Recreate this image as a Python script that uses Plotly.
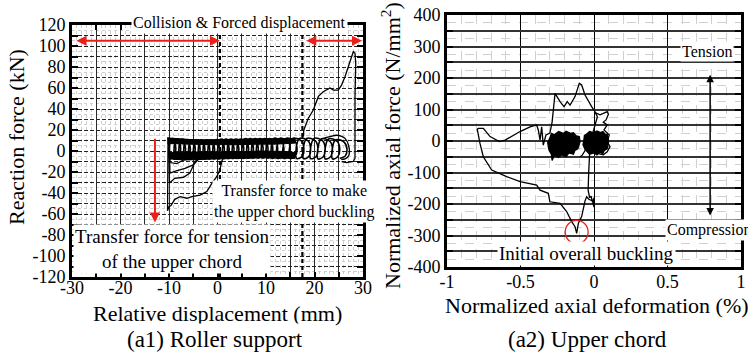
import plotly.graph_objects as go

FONT = "Liberation Serif"

# ---------------- (a1) Roller support : data ----------------
x1_ticks = [-30, -25, -20, -15, -10, -5, 0, 5, 10, 15, 20, 25, 30]
x1_text = ["-30", "", "-20", "", "-10", "", "0", "", "10", "", "20", "", "30"]
y1_ticks = [-120, -110, -100, -90, -80, -70, -60, -50, -40, -30, -20, -10, 0,
            10, 20, 30, 40, 50, 60, 70, 80, 90, 100, 110, 120]
y1_text = ["-120", "", "-100", "", "-80", "", "-60", "", "-40", "", "-20", "", "0",
           "", "20", "", "40", "", "60", "", "80", "", "100", "", "120"]
phase_lines_x = [0.5, 17.5]

# dense parts of the overlapping cycles (upper and lower envelopes)
top_strip_x = [-10.3, -9.0, -6.0, -3.0, 0.0, 3.0, 6.0, 9.0, 12.0, 14.5, 16.0,
               16.0, 14.5, 12.0, 9.0, 6.0, 3.0, 0.0, -3.0, -6.0, -9.0, -10.3]
top_strip_y = [12.5, 12.0, 11.0, 10.5, 10.5, 11.0, 11.0, 11.5, 11.5, 12.0, 12.0,
               7.5, 7.0, 6.5, 6.5, 6.0, 6.0, 6.0, 6.0, 6.5, 7.0, 7.0]
bot_strip_x = [-10.0, -9.0, -6.0, -3.0, 0.0, 3.0, 6.0, 9.0, 12.0, 14.5, 16.0,
               16.0, 14.5, 12.0, 9.0, 6.0, 3.0, 0.0, -3.0, -6.0, -9.0, -10.0]
bot_strip_y = [-1.0, -1.5, -1.0, -1.0, -1.0, -0.5, -0.5, 0.0, 0.0, -0.5, -1.5,
               -7.0, -7.0, -6.5, -6.5, -7.0, -7.0, -7.5, -8.0, -8.5, -8.0, -7.0]
# repeated hysteresis cycles (each: rise on the left, arc back on the right)
cyc_x = [-10.3, -9.0, -8.6, -8.9, -9.8,
         -9.5, -8.0, -7.6, -7.9, -8.8,
         -8.5, -7.0, -6.6, -6.9, -7.8,
         -7.5, -6.0, -5.6, -5.9, -6.8,
         -6.5, -5.0, -4.6, -4.9, -5.8,
         -5.5, -4.0, -3.6, -3.9, -4.8,
         -4.5, -3.0, -2.6, -2.9, -3.8,
         -3.5, -2.0, -1.6, -1.9, -2.8,
         -2.5, -1.0, -0.6, -0.9, -1.8,
         -1.5, 0.0, 0.4, 0.1, -0.8,
         -0.5, 1.0, 1.4, 1.1, 0.2,
         0.5, 2.0, 2.4, 2.1, 1.2,
         1.5, 3.0, 3.4, 3.1, 2.2,
         2.5, 4.0, 4.4, 4.1, 3.2,
         3.5, 5.0, 5.4, 5.1, 4.2,
         4.5, 6.0, 6.4, 6.1, 5.2,
         5.5, 7.0, 7.4, 7.1, 6.2,
         6.5, 8.0, 8.4, 8.1, 7.2,
         7.5, 9.0, 9.4, 9.1, 8.2,
         8.5, 10.0, 10.4, 10.1, 9.2,
         9.5, 11.0, 11.4, 11.1, 10.2,
         10.5, 12.0, 12.4, 12.1, 11.2,
         11.6, 13.2, 13.7, 13.3, 12.3,
         12.8, 14.5, 15.0, 14.6, 13.6,
         14.1, 15.9, 16.4, 16.0, 14.9,
         15.5, 17.3, 17.8, 17.4, 16.3,
         16.9, 18.7, 19.2, 18.8, 17.7,
         18.4, 20.2, 20.7, 20.3, 19.2,
         19.9, 21.7, 22.2, 21.8, 20.7,
         21.4, 23.2, 23.7, 23.3, 22.2,
         22.9, 24.7, 25.2, 24.8, 23.7,
         24.3, 26.1, 26.7, 26.3, 25.2]
cyc_y = [12.0, 9.0, 3.0, -4.0, -7.5,
         11.5, 9.0, 3.0, -4.0, -7.5,
         11.0, 8.5, 3.0, -4.5, -7.5,
         11.0, 8.5, 2.5, -4.5, -7.5,
         10.5, 8.5, 2.5, -4.5, -7.0,
         10.5, 8.0, 2.5, -4.5, -7.0,
         10.5, 8.0, 2.0, -4.5, -7.5,
         10.5, 8.0, 2.0, -5.0, -7.5,
         10.5, 8.0, 2.0, -5.0, -7.5,
         10.5, 8.0, 2.5, -5.0, -7.5,
         10.5, 8.5, 2.5, -5.0, -7.5,
         11.0, 8.5, 2.5, -5.0, -7.0,
         11.0, 8.5, 2.5, -4.5, -7.0,
         11.0, 8.5, 2.5, -4.5, -7.0,
         11.0, 9.0, 3.0, -4.5, -7.0,
         11.0, 9.0, 3.0, -4.5, -7.0,
         11.5, 9.0, 3.0, -4.5, -6.5,
         11.5, 9.0, 3.0, -4.5, -6.5,
         11.5, 9.0, 3.0, -4.5, -6.5,
         11.5, 9.0, 3.0, -4.5, -6.5,
         11.5, 9.0, 3.0, -4.5, -6.5,
         11.5, 9.0, 3.0, -4.5, -7.0,
         12.0, 9.0, 2.5, -5.0, -7.0,
         12.0, 9.0, 2.5, -5.0, -7.0,
         12.0, 9.5, 2.0, -5.0, -7.0,
         12.0, 9.5, 2.0, -5.5, -7.0,
         12.0, 9.5, 1.5, -5.5, -7.2,
         12.0, 9.5, 1.5, -5.5, -7.2,
         12.0, 9.5, 1.0, -5.5, -7.5,
         11.5, 9.0, 1.0, -5.5, -7.5,
         11.5, 9.0, 1.0, -5.5, -7.5,
         10.5, 8.5, 1.5, -5.0, -7.0]
arc_x = [21.5, 23.2, 24.5, 25.6, 26.3, 27.0, 27.1, 26.3, 25.5]
arc_y = [11.5, 13.6, 15.0, 14.0, 12.0, 5.7, -4.0, -7.5, -8.0]
# forced-displacement branch
rise_x = [12, 15, 17.5, 17.7, 17.8, 18.7, 19.75, 20.8, 21.8, 23.2, 23.9, 24.9, 25.6,
          26.3, 27.0, 27.7, 28.0, 28.35, 28.5, 28.35, 28.35, 28.35, 28.0, 26.6, 25.6]
rise_y = [10.5, 11.5, 12, 15, 20, 31, 39, 52, 56.5, 60, 58, 58, 63,
          71, 80, 90, 94.5, 93, 83.5, 52, 26, -7, -10, -11, -10]
# first cycles (negative side)
low1_x = [-10.2, -10.3, -10.0, -9.6, -8.8, -7.7, -6.3, -5.3, -3.6, -2.2, -1.2, -0.17, 0.5, 0.87, 1.5, 2.5]
low1_y = [13, -57, -53, -52, -46, -43.5, -45, -43.5, -42, -38.7, -31, -24.5, -18, -10, -3, 2]
low2_x = [-10.1, -9.9, -8.8, -7.0, -5.7, -4.6, -3.5, -2.0]
low2_y = [11, -30.5, -26, -25, -21, -10, -4, 0]
low3_x = [-10.0, -9.8, -8.5, -6.7, -5.0, -3.5]
low3_y = [10, -21, -19, -16.5, -13.3, -6]
low4_x = [-9.9, -9.8, -8.4, -7.05, -5.7, -4.0]
low4_y = [9, -11, -12, -8.6, -7.6, -5]

# ---------------- (a2) Upper chord : data ----------------
x2_ticks = [-1, -0.5, 0, 0.5, 1]
x2_text = ["-1", "-0.5", "0", "0.5", "1"]
y2_ticks = [-400, -350, -300, -250, -200, -150, -100, -50, 0, 50, 100, 150, 200, 250, 300, 350, 400]
y2_text = ["-400", "", "-300", "", "-200", "", "-100", "", "0", "", "100", "", "200", "", "300", "", "400"]

chord_x = [0.02, -0.03, -0.036, -0.04, -0.03, -0.02, -0.01, 0.0, 0.0, -0.01, -0.035, -0.05, -0.061,
           -0.072, -0.084, -0.106, -0.118, -0.129, -0.152, -0.186, -0.231, -0.3, -0.311, -0.367,
           -0.39, -0.503, -0.594, -0.696, -0.753, -0.776, -0.794, -0.787, -0.753, -0.707, -0.644,
           -0.605, -0.503, -0.435, -0.39, -0.379, -0.367, -0.356, -0.345, -0.327, -0.3, -0.285,
           -0.265, -0.231, -0.204, -0.182, -0.163, -0.129, -0.1, -0.084, -0.061, -0.016, 0.007,
           0.023, 0.007, -0.009, 0.01]
chord_y = [-30, -40, -100, -156, -180, -175, -195, -180, -210, -190, -185, -177, -190,
           -210, -240, -261, -293, -272, -256, -224, -198, -193, -166, -156,
           -140, -129, -113, -92, -50, -7, 37, 40, 40, 14, -2,
           3, 30, 45, 51, 35, 3, 45, -13, 19, 25, 60,
           151, 125, 109, 125, 114, 141, 183, 178, 146, 109, 93,
           77, 51, 24, 0]
squig_x = [0.007, 0.041, 0.09, 0.098, 0.082, 0.063, 0.09, 0.068, 0.104, 0.09, 0.109, 0.09, 0.063, 0.03]
squig_y = [90, 83, 93, 85, 67, 60, 51, 35, 19, -2, -18, -34, -44, -40]
blobL_x = [-0.30, -0.29, -0.27, -0.24, -0.21, -0.19, -0.16, -0.14, -0.12, -0.10, -0.095, -0.10,
           -0.11, -0.13, -0.14, -0.17, -0.19, -0.22, -0.24, -0.27, -0.285, -0.29, -0.305,
           -0.31, -0.315, -0.30]
blobL_y = [10, 24, 20, 30, 24, 31, 24, 26, 16, 14, -2, -12, -25, -30, -42, -38, -50, -44,
           -52, -45, -62, -42, -30, -20, -5, 10]
blobR_x = [-0.07, -0.065, -0.05, -0.03, 0.0, 0.02, 0.045, 0.06, 0.08, 0.09, 0.10, 0.095,
           0.09, 0.07, 0.06, 0.04, 0.02, 0.0, -0.03, -0.05, -0.06, -0.075, -0.07]
blobR_y = [0, 18, 22, 30, 26, 32, 27, 30, 20, 22, 0, -12, -25, -30, -40, -36, -44, -38,
           -42, -32, -28, -12, 0]
link_x = [-0.095, -0.08, -0.06]
link_y = [-50, -45, -30]

fig = go.Figure()


def add(x, y, xa, ya, fill=False, spline=False, width=1.3):
    fig.add_trace(go.Scatter(
        x=x, y=y, xaxis=xa, yaxis=ya, mode="lines",
        line=dict(color="black", width=width, shape="spline" if spline else "linear"),
        fill="toself" if fill else None, fillcolor="black" if fill else None,
        hoverinfo="skip", showlegend=False))


add(top_strip_x, top_strip_y, "x", "y", fill=True, width=1)
add(bot_strip_x, bot_strip_y, "x", "y", fill=True, width=1)
add(cyc_x, cyc_y, "x", "y", spline=True, width=1.6)
add(arc_x, arc_y, "x", "y", spline=True)
add(rise_x, rise_y, "x", "y")
add(low1_x, low1_y, "x", "y")
add(low2_x, low2_y, "x", "y")
add(low3_x, low3_y, "x", "y")
add(low4_x, low4_y, "x", "y")

add(blobL_x, blobL_y, "x2", "y2", fill=True)
add(blobR_x, blobR_y, "x2", "y2", fill=True)
add(link_x, link_y, "x2", "y2")
add(chord_x, chord_y, "x2", "y2")
add(squig_x, squig_y, "x2", "y2")

tickfont = dict(family=FONT, size=18, color="black")
frame = dict(showline=True, linecolor="black", linewidth=3, mirror="ticks", zeroline=False,
             tickfont=tickfont, tickmode="array", automargin=False)

fig.update_layout(
    width=748, height=356, margin=dict(l=0, r=0, t=0, b=0, pad=0, autoexpand=False),
    paper_bgcolor="white", plot_bgcolor="white", showlegend=False,
    font=dict(family=FONT, color="black"),
    xaxis=dict(domain=[72 / 748, 363 / 748], range=[-30, 30], tickvals=x1_ticks, ticktext=x1_text,
               ticks="inside", ticklen=5, tickwidth=2, tickcolor="black", ticklabelstandoff=-8,
               showgrid=True, gridcolor="#2a2a2a", gridwidth=1.3,
               minor=dict(tickmode="linear", tick0=-30, dtick=1, showgrid=True,
                          gridcolor="#cfcfcf", griddash="dot", gridwidth=1),
               **frame),
    yaxis=dict(domain=[1 - 277 / 356, 1 - 25 / 356], range=[-120, 120], tickvals=y1_ticks,
               ticktext=y1_text, ticks="inside", ticklen=6, tickwidth=2, tickcolor="black",
               showgrid=True, gridcolor="#222", gridwidth=1.2, griddash="4px,2px",
               minor=dict(tickmode="linear", tick0=-120, dtick=5, showgrid=True,
                          gridcolor="#cfcfcf", griddash="dot", gridwidth=1),
               **frame),
    xaxis2=dict(domain=[447 / 748, 741 / 748], range=[-1, 1], tickvals=x2_ticks, ticktext=x2_text,
                ticks="", showgrid=True, gridcolor="black", gridwidth=1.2, ticklabelstandoff=-4,
                minor=dict(tickmode="linear", tick0=-1, dtick=0.1, showgrid=True,
                           gridcolor="#d0d0d0", griddash="dash", gridwidth=1),
                anchor="y2", **frame),
    yaxis2=dict(domain=[1 - 267 / 356, 1 - 15 / 356], range=[-400, 400], tickvals=y2_ticks,
                ticktext=y2_text, ticks="inside", ticklen=6, tickwidth=2, tickcolor="black",
                showgrid=True, gridcolor="#333", gridwidth=1.5,
                minor=dict(tickmode="linear", tick0=-400, dtick=25, showgrid=True,
                           gridcolor="#d0d0d0", griddash="dash", gridwidth=1),
                anchor="x2", **frame),
)

shapes = []
for xv in phase_lines_x:
    shapes.append(dict(type="line", xref="x", yref="y", x0=xv, x1=xv, y0=-120, y1=120,
                       line=dict(color="black", width=2.2, dash="4px,3px"), layer="above"))
shapes.append(dict(type="circle", xref="x2", yref="y2", x0=-0.196, x1=-0.04, y0=-326, y1=-252,
                   line=dict(color="#e8201a", width=1.3)))
fig.update_layout(shapes=shapes)

RED = "#e8201a"
ann = []


def arrow(x, y, ax, ay, xr, yr, color, both=False, width=2):
    ann.append(dict(x=x, y=y, ax=ax, ay=ay, xref=xr, yref=yr, axref=xr, ayref=yr,
                    showarrow=True, arrowhead=2, arrowsize=1, arrowwidth=width,
                    arrowcolor=color, arrowside="end+start" if both else "end", text=""))


arrow(0.5, 105, -29.4, 105, "x", "y", RED, both=True)
arrow(29.8, 105, 18.0, 105, "x", "y", RED, both=True)
arrow(30.6, 94, 30.6, -35, "x", "y", RED)
arrow(-12.9, -68, -12.9, 13, "x", "y", RED)
arrow(0.79, 210, 0.79, -241, "x2", "y2", "black", both=True, width=1.5)


def text(t, x, y, size, xr="paper", yr="paper", angle=0, bg=None, pad=1):
    ann.append(dict(text=t, x=x, y=y, xref=xr, yref=yr, showarrow=False, textangle=angle,
                    font=dict(family=FONT, size=size, color="black"),
                    bgcolor=bg, borderpad=pad, xanchor="center", yanchor="middle"))


def px(xp, yp):
    return xp / 748, 1 - yp / 356


text("Collision &amp; Forced displacement", *px(239, 23), 16, bg="white")
text("Transfer force to make<br>the upper chord buckling", *px(294, 201), 16, bg="white")
text("Transfer force for tension<br>of the upper chord", *px(172, 249), 19, bg="white")
text("Reaction force (kN)", *px(16, 137), 22, angle=-90)
text("Relative displacement (mm)", *px(217, 313), 22)
text("(a1) Roller support", *px(215, 339), 23, bg="white", pad=3)

text("Tension", 0.77, 283, 16, xr="x2", yr="y2", bg="white")
text("Compression", 0.78, -283, 16, xr="x2", yr="y2", bg="white")
text("Initial overall buckling", -0.05, -356, 19, xr="x2", yr="y2", bg="white")
text("Normalized axial force (N/mm<sup>2</sup>)", *px(391, 146), 22, angle=-90)
text("Normalized axial deformation (%)", *px(597, 305), 22)
text("(a2) Upper chord", *px(587, 339), 23, bg="white", pad=3)

fig.update_layout(annotations=ann)
fig.write_html("out.html")
